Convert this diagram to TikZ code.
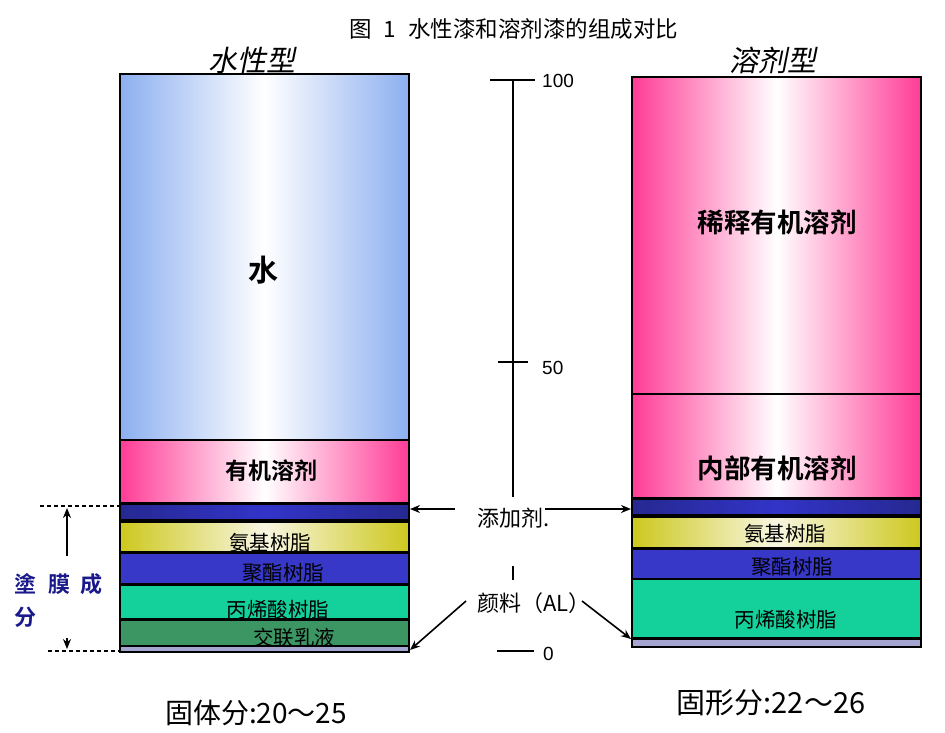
\documentclass[tikz,border=0pt]{standalone}
\usepackage{fontspec}
\setmainfont{Liberation Sans}
\newfontfamily\cjk{Noto Sans CJK SC}
\newfontfamily\cjkb{Noto Sans CJK SC Bold}
\newfontfamily\cjkit[FakeSlant=0.2]{Noto Sans CJK SC}
\usetikzlibrary{arrows.meta}
\definecolor{wedge}{RGB}{140,175,240}
\definecolor{pinkc}{RGB}{255,60,150}
\definecolor{dblue}{RGB}{38,40,145}
\definecolor{dbluec}{RGB}{50,52,200}
\definecolor{yel}{RGB}{205,200,30}
\definecolor{yelc}{RGB}{248,246,225}
\definecolor{bluec}{RGB}{55,55,200}
\definecolor{greenc}{RGB}{20,208,155}
\definecolor{dgreen}{RGB}{60,150,100}
\definecolor{lilac}{RGB}{165,165,210}
\definecolor{navy}{RGB}{25,25,140}
\tikzset{
  lay/.style={draw=black, line width=2pt, inner sep=0pt, anchor=north west, minimum width=289pt},
  water/.style={lay, left color=wedge, right color=wedge, middle color=white},
  pinkl/.style={lay, left color=pinkc, right color=pinkc, middle color=white},
  addl/.style={lay, left color=dblue, right color=dblue, middle color=dbluec},
  yell/.style={lay, left color=yel, right color=yel, middle color=yelc},
  bluel/.style={lay, fill=bluec},
  greenl/.style={lay, fill=greenc},
  dgreenl/.style={lay, fill=dgreen},
  botl/.style={lay, fill=lilac},
  lbl/.style={font=\cjk\fontsize{20.5}{22}\selectfont, inner sep=1pt},
  big/.style={font=\cjkb\fontsize{23}{26}\selectfont, inner sep=1pt},
  arr/.style={-{Stealth[length=10pt,width=8pt]}, line width=1.6pt},
  scl/.style={line width=1.6pt},
  num/.style={font=\fontsize{19}{22}\selectfont, anchor=west, inner sep=1pt},
}
\begin{document}
\begin{tikzpicture}[x=1pt,y=-1pt]
\useasboundingbox[fill=white] (0,0) rectangle (945,732);
% title
\node[font=\cjk\fontsize{22.5}{24}\selectfont, anchor=west, inner sep=0pt] (title) at (349,29) {图\hspace{12pt}1\hspace{12pt}水性漆和溶剂漆的组成对比};
\node[font=\cjkit\fontsize{29}{31}\selectfont] (tw) at (252,60) {水性型};
\node[font=\cjkit\fontsize{29}{31}\selectfont] (ts) at (773,60) {溶剂型};
% left column
\node[water, minimum height=366pt] (waterL) at (119,73) {};
\node[pinkl, minimum height=63pt] (solvL) at (119,439) {};
\node[addl, minimum height=16pt] (addL) at (119,503) {};
\node[yell, minimum height=30pt] (aminoL) at (119,521) {};
\node[bluel, minimum height=31pt] (polyL) at (119,552) {};
\node[greenl, minimum height=34pt] (acrL) at (119,584) {};
\node[dgreenl, minimum height=26pt] (latL) at (119,619) {};
\node[botl, minimum height=6pt] (botL) at (119,645) {};
\node[font=\cjkb\fontsize{30}{34}\selectfont] (tWater) at (263,270) {水};
\node[big] (tSolvL) at (271,471) {有机溶剂};
\node[lbl] (tAminoL) at (270,543) {氨基树脂};
\node[lbl] (tPolyL) at (283,573) {聚酯树脂};
\node[lbl] (tAcrL) at (278,610) {丙烯酸树脂};
\node[lbl] (tLatL) at (294,638) {交联乳液};
% right column
\node[pinkl, minimum height=317pt] (dilR) at (631,76) {};
\node[pinkl, minimum height=104pt] (intR) at (631,393) {};
\node[addl, minimum height=16pt] (addR) at (631,498) {};
\node[yell, minimum height=31pt] (aminoR) at (631,516) {};
\node[bluel, minimum height=30pt] (polyR) at (631,548) {};
\node[greenl, minimum height=59pt] (acrR) at (631,578) {};
\node[botl, minimum height=8pt] (botR) at (631,638) {};
\node[big, font=\cjkb\fontsize{26.5}{30}\selectfont] (tDil) at (777,222) {稀释有机溶剂};
\node[big, font=\cjkb\fontsize{26.5}{30}\selectfont] (tInt) at (777,468) {内部有机溶剂};
\node[lbl] (tAminoR) at (785,534) {氨基树脂};
\node[lbl] (tPolyR) at (792,567) {聚酯树脂};
\node[lbl] (tAcrR) at (786,620) {丙烯酸树脂};
% scale
\coordinate (s100) at (513,80);
\coordinate (s50) at (513,362);
\coordinate (sA) at (513,497);
\coordinate (sB) at (513,566);
\coordinate (sC) at (513,580);
\coordinate (t100a) at (490,80); \coordinate (t100b) at (535,80);
\coordinate (t50a) at (498,362); \coordinate (t50b) at (528,362);
\coordinate (t0a) at (497,651); \coordinate (t0b) at (534,651);
\draw[scl] (s100) -- (sA);
\draw[scl] (sB) -- (sC);
\draw[scl] (t100a) -- (t100b);
\draw[scl] (t50a) -- (t50b);
\draw[scl] (t0a) -- (t0b);
\node[num] (n100) at (541,81) {100};
\node[num] (n50) at (541,368) {50};
\node[num] (n0) at (542,654) {0};
% additive / pigment labels
\node[lbl, font=\cjk\fontsize{22}{24}\selectfont, anchor=west] (tAdd) at (476,518) {添加剂.};
\node[lbl, font=\cjk\fontsize{22}{24}\selectfont, anchor=west] (tPig) at (476,603) {颜料（AL）};
\coordinate (aL) at (455,509);
\coordinate (aR) at (545,509);
\draw[arr] (aL) -- (addL.east |- aL);
\draw[arr] (aR) -- (addR.west |- aR);
\coordinate (pL) at (466,601);
\coordinate (pR) at (582,601);
\draw[arr] (pL) -- ([yshift=-5pt]botL.north east);
\draw[arr] (pR) -- ([yshift=-1pt]botR.north west);
% coating film components
\coordinate (d1a) at (40,506); \coordinate (d2a) at (48,651);
\draw[line width=2.6pt, dash pattern=on 3.5pt off 3.5pt] (d1a) -- (addL.west |- d1a);
\draw[line width=2.6pt, dash pattern=on 3.5pt off 3.5pt] (d2a) -- (botL.west |- d2a);
\coordinate (vA) at (67,556);
\coordinate (vB) at (67,508);
\coordinate (vC) at (67,638);
\coordinate (vD) at (67,649);
\draw[arr] (vA) -- (vB);
\draw[arr, line width=1.2pt] (vC) -- (vD);
\node[font=\cjkb\fontsize{22}{24}\selectfont, text=navy, anchor=west, inner sep=0pt] (film1) at (14,584) {塗\hspace{12pt}膜\hspace{10pt}成};
\node[font=\cjkb\fontsize{22}{24}\selectfont, text=navy, anchor=west, inner sep=0pt] (film2) at (14,617) {分};
% bottom labels
\node[font=\cjk\fontsize{28}{30}\selectfont] (fsL) at (256,713) {固体分:20～25};
\node[font=\cjk\fontsize{29}{31}\selectfont] (fsR) at (771,703) {固形分:22～26};
\end{tikzpicture}
\end{document}
